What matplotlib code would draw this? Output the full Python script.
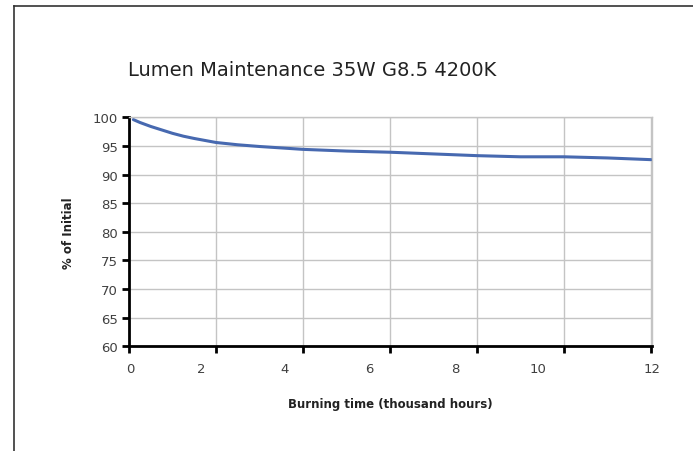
import numpy as np
import matplotlib
matplotlib.use("Agg")
import matplotlib.pyplot as plt
from matplotlib.lines import Line2D

# data
hours = [0.1, 0.25, 0.5, 0.75, 1, 1.25, 1.5, 2, 2.5, 3, 4, 5, 6, 7, 8, 9, 10, 11, 12]
lumen = [99.6, 99.1, 98.4, 97.8, 97.2, 96.7, 96.3, 95.6, 95.2, 94.9, 94.4, 94.1,
         93.9, 93.6, 93.3, 93.1, 93.1, 92.9, 92.6]

x_ticks = [0, 2, 4, 6, 8, 10, 12]
x_tick_labels = ['0', '2', '4', '6', '8', '10', '12']
y_ticks = [60, 65, 70, 75, 80, 85, 90, 95, 100]

# the labels in the original sit a bit left of their ticks
x_label_pos = [0.02, 1.65, 3.57, 5.53, 7.50, 9.41, 12.02]

W, H = 693, 452
fig = plt.figure(figsize=(W / 100, H / 100), dpi=100)
ax = fig.add_axes([129 / W, (H - 347.3) / H, (652 - 129) / W, (347.3 - 118.3) / H])

ax.plot(hours, lumen, color='#4769b0', lw=2.2, solid_capstyle='round',
        solid_joinstyle='round')

ax.set_xlim(0, 12)
ax.set_ylim(60, 100)
ax.set_xticks(x_ticks)
ax.set_xticklabels([])
ax.set_xticks(x_label_pos, minor=True)
ax.set_xticklabels(x_tick_labels, minor=True)
ax.set_yticks(y_ticks)
ax.set_yticklabels([str(v) for v in y_ticks])

ax.grid(True, which='major', color='#c4c4c4', lw=1.0)
ax.set_axisbelow(True)
for s in ['top', 'right']:
    ax.spines[s].set_color('#c4c4c4')
    ax.spines[s].set_linewidth(1.0)
for s in ['left', 'bottom']:
    ax.spines[s].set_color('black')
    ax.spines[s].set_linewidth(2.0)

ax.tick_params(axis='y', which='major', direction='out', length=5, width=2,
               color='black', labelsize=9.5, labelcolor='#404040', pad=3)
ax.tick_params(axis='x', which='major', direction='out', length=5, width=2,
               color='black')
ax.tick_params(axis='x', which='minor', length=0, labelsize=9.5,
               labelcolor='#404040', pad=11)

ax.set_xlabel('Burning time (thousand hours)', fontsize=8.5, fontweight='bold',
              color='#222222', labelpad=16)
ax.set_ylabel('% of Initial', fontsize=8.5, fontweight='bold',
              color='#222222', labelpad=13)

fig.text(128 / W, (H - 70) / H, 'Lumen Maintenance 35W G8.5 4200K',
         fontsize=14, color='#222222', ha='left', va='center')

# outer frame of the original figure (only top and left edges visible)
fig.add_artist(Line2D([14 / W, 14 / W], [0, (H - 7) / H], color='#333333', lw=1.2))
fig.add_artist(Line2D([14 / W, 1], [(H - 7) / H, (H - 7) / H], color='#333333', lw=1.2))

fig.savefig('out.png', dpi=100, facecolor='white')
